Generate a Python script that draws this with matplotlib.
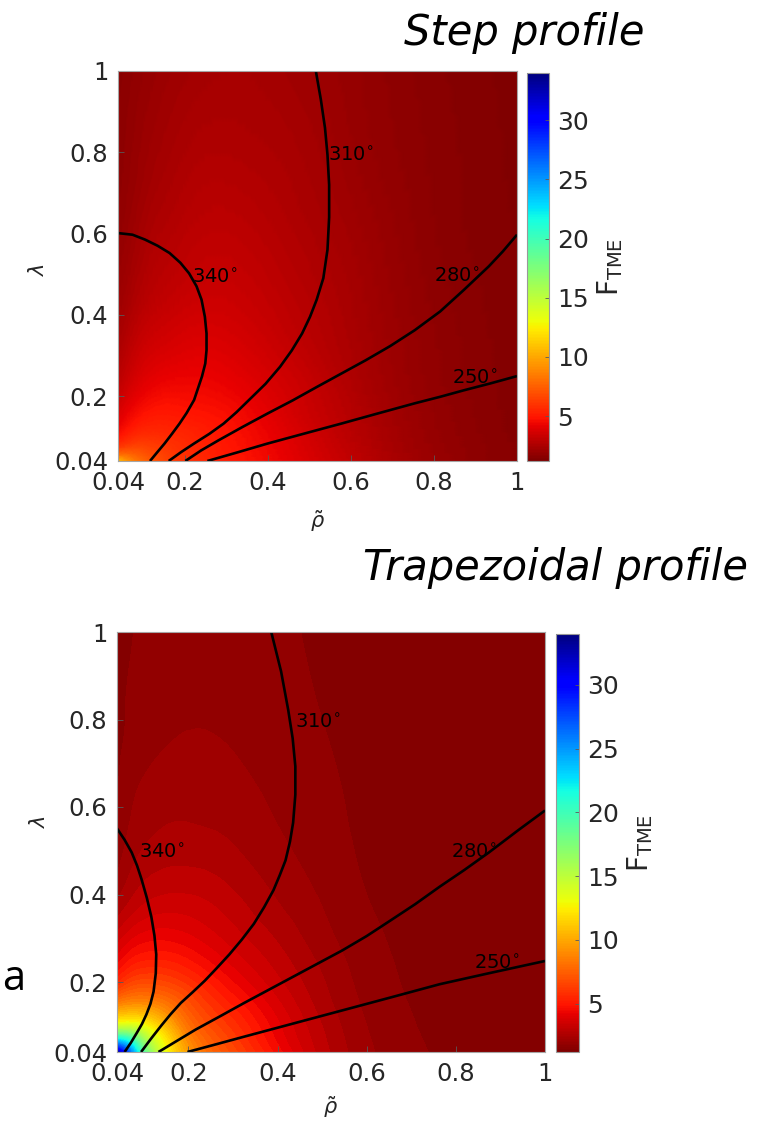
import numpy as np
import matplotlib
matplotlib.use("Agg")
import matplotlib.pyplot as plt
import matplotlib.tri as mtri
from matplotlib.colors import Normalize
from matplotlib.cm import ScalarMappable

# ---------------- data ----------------
rho = [0.04, 0.07, 0.10, 0.15, 0.20, 0.30, 0.40, 0.50, 0.60, 0.80, 1.00]
lam = [0.04, 0.07, 0.10, 0.15, 0.20, 0.30, 0.40, 0.60, 0.80, 1.00]

# F_TME, step profile (rows: lam, cols: rho)
f_step = [
    [11.0, 9.0, 7.8, 6.6, 5.9, 5.1, 4.5, 3.8, 3.1, 2.0, 1.45],
    [6.5, 6.8, 6.7, 6.2, 5.7, 5.0, 4.4, 3.7, 3.0, 1.95, 1.45],
    [4.9, 5.5, 5.8, 5.7, 5.5, 4.9, 4.3, 3.6, 2.9, 1.9, 1.42],
    [3.9, 4.5, 4.9, 5.1, 5.0, 4.7, 4.1, 3.4, 2.8, 1.85, 1.4],
    [3.3, 3.9, 4.3, 4.6, 4.6, 4.4, 3.9, 3.3, 2.7, 1.8, 1.4],
    [2.6, 3.1, 3.5, 3.8, 3.95, 3.9, 3.5, 3.0, 2.5, 1.75, 1.38],
    [2.2, 2.6, 2.95, 3.25, 3.45, 3.5, 3.2, 2.8, 2.4, 1.7, 1.36],
    [1.8, 2.05, 2.35, 2.65, 2.85, 3.0, 2.8, 2.5, 2.2, 1.6, 1.33],
    [1.62, 1.82, 2.02, 2.28, 2.48, 2.6, 2.5, 2.3, 2.0, 1.55, 1.3],
    [1.52, 1.68, 1.83, 2.03, 2.18, 2.35, 2.3, 2.1, 1.9, 1.5, 1.28],
]

# F_TME, trapezoidal profile (rows: lam, cols: rho)
f_trap = [
    [33.0, 26.0, 19.0, 13.0, 9.5, 6.6, 4.6, 3.0, 2.1, 1.5, 1.3],
    [22.0, 20.0, 16.0, 12.0, 8.8, 6.2, 4.3, 2.9, 2.05, 1.48, 1.3],
    [14.0, 14.0, 13.0, 10.5, 8.0, 5.8, 4.1, 2.8, 2.0, 1.46, 1.3],
    [8.5, 9.0, 9.0, 8.2, 6.9, 5.1, 3.7, 2.6, 1.92, 1.43, 1.28],
    [5.5, 6.3, 6.6, 6.4, 5.8, 4.4, 3.3, 2.45, 1.85, 1.4, 1.27],
    [3.4, 3.9, 4.2, 4.3, 4.1, 3.4, 2.75, 2.15, 1.72, 1.38, 1.25],
    [2.3, 2.7, 3.0, 3.2, 3.2, 2.85, 2.35, 1.95, 1.6, 1.35, 1.25],
    [1.6, 1.95, 2.15, 2.3, 2.32, 2.2, 1.95, 1.72, 1.5, 1.32, 1.23],
    [1.52, 1.65, 1.78, 1.92, 1.98, 1.93, 1.78, 1.6, 1.45, 1.3, 1.22],
    [1.5, 1.58, 1.68, 1.8, 1.87, 1.88, 1.7, 1.52, 1.4, 1.28, 1.22],
]

# Constant-angle curves, step profile
step_340_rho = [0.04, 0.075, 0.105, 0.135, 0.164, 0.19, 0.211, 0.229, 0.241, 0.249,
                0.253, 0.253, 0.250, 0.242, 0.223, 0.205, 0.188, 0.170, 0.152, 0.134, 0.117]
step_340_lam = [0.601, 0.597, 0.585, 0.570, 0.552, 0.528, 0.502, 0.470, 0.437, 0.395,
                0.354, 0.313, 0.280, 0.248, 0.19, 0.158, 0.132, 0.107, 0.083, 0.061, 0.04]
step_310_rho = [0.516, 0.528, 0.538, 0.544, 0.548, 0.548, 0.544, 0.534, 0.518, 0.502,
                0.483, 0.458, 0.43, 0.395, 0.355, 0.325, 0.294, 0.260, 0.223, 0.192, 0.162]
step_310_lam = [1.0, 0.93, 0.86, 0.794, 0.72, 0.64, 0.56, 0.49, 0.437, 0.395,
                0.354, 0.312, 0.272, 0.230, 0.19, 0.160, 0.132, 0.107, 0.083, 0.062, 0.04]
step_280_rho = [0.202, 0.24, 0.282, 0.34, 0.40, 0.46, 0.518, 0.577, 0.636, 0.695,
                0.754, 0.815, 0.872, 0.932, 0.966, 1.0]
step_280_lam = [0.04, 0.066, 0.091, 0.124, 0.157, 0.189, 0.222, 0.255, 0.288, 0.323,
                0.362, 0.408, 0.461, 0.519, 0.556, 0.597]
step_250_rho = [0.255, 0.33, 0.40, 0.49, 0.577, 0.665, 0.754, 0.815, 0.872, 0.936, 1.0]
step_250_lam = [0.04, 0.062, 0.083, 0.108, 0.132, 0.157, 0.182, 0.198, 0.214, 0.231, 0.249]

# Constant-angle curves, trapezoidal profile
trap_340_rho = [0.04, 0.057, 0.073, 0.085, 0.095, 0.107, 0.117, 0.124, 0.128, 0.127,
                0.122, 0.115, 0.106, 0.096, 0.084, 0.071, 0.057]
trap_340_lam = [0.551, 0.525, 0.496, 0.466, 0.435, 0.392, 0.349, 0.306, 0.263, 0.220,
                0.178, 0.150, 0.126, 0.104, 0.083, 0.061, 0.04]
trap_310_rho = [0.386, 0.408, 0.424, 0.434, 0.44, 0.44, 0.435, 0.428, 0.418, 0.405,
                0.391, 0.370, 0.347, 0.320, 0.292, 0.264, 0.237, 0.210, 0.183, 0.160,
                0.139, 0.116, 0.094]
trap_310_lam = [1.0, 0.91, 0.822, 0.757, 0.693, 0.628, 0.564, 0.521, 0.478, 0.444,
                0.41, 0.371, 0.333, 0.297, 0.263, 0.232, 0.203, 0.177, 0.152, 0.126,
                0.10, 0.07, 0.04]
trap_280_rho = [0.133, 0.172, 0.216, 0.27, 0.325, 0.38, 0.435, 0.49, 0.545, 0.60,
                0.654, 0.709, 0.764, 0.819, 0.874, 0.94, 1.0]
trap_280_lam = [0.04, 0.064, 0.091, 0.121, 0.152, 0.182, 0.212, 0.242, 0.272, 0.305,
                0.341, 0.378, 0.418, 0.456, 0.496, 0.547, 0.592]
trap_250_rho = [0.198, 0.26, 0.325, 0.435, 0.545, 0.655, 0.764, 0.874, 0.937, 1.0]
trap_250_lam = [0.04, 0.057, 0.075, 0.105, 0.135, 0.165, 0.195, 0.22, 0.234, 0.248]

angle_labels = ["340", "310", "280", "250"]
ticks = [0.04, 0.2, 0.4, 0.6, 0.8, 1.0]
tick_labels = ["0.04", "0.2", "0.4", "0.6", "0.8", "1"]
cbar_ticks = [5, 10, 15, 20, 25, 30]
f_min, f_max = 1.2, 34.0

# ---------------- drawing ----------------
plt.rcParams["font.family"] = ["DejaVu Sans"]
fig = plt.figure(figsize=(7.65, 11.29), dpi=100)
W, H = 765.0, 1129.0
norm = Normalize(vmin=f_min, vmax=f_max)
cmap = plt.get_cmap("jet_r")


def box(x0, y0, x1, y1):
    return [x0 / W, 1 - y1 / H, (x1 - x0) / W, (y1 - y0) / H]


def refined(values):
    R, L = np.meshgrid(rho, lam)
    tri = mtri.Triangulation(R.ravel(), L.ravel())
    z = np.log(np.asarray(values, float).ravel())
    tri_f, z_f = mtri.UniformTriRefiner(tri).refine_field(z, subdiv=4)
    return tri_f, np.exp(z_f)


def curves(ax, lines, labels):
    for (xs, ys) in lines:
        ax.plot(xs, ys, color="black", lw=1.9, solid_joinstyle="round",
                solid_capstyle="butt")
    for (txt, (x, y)) in labels:
        ax.text(x, y, txt + r"$^{\circ}$", fontsize=14, color="black",
                ha="left", va="center")


def style(ax, cax, xl_y, yl_x, yl_y):
    ax.set_xlim(0.04, 1.0)
    ax.set_ylim(0.04, 1.0)
    ax.set_xticks(ticks)
    ax.set_xticklabels(tick_labels)
    ax.set_yticks(ticks)
    ax.set_yticklabels(tick_labels)
    ax.tick_params(direction="in", length=4, width=0.6, color="0.35",
                   labelsize=17.5, labelcolor="#262626", pad=7)
    for s in ax.spines.values():
        s.set_color("0.65")
        s.set_linewidth(0.8)
    ax.set_xlabel(r"$\tilde{\rho}$", fontsize=15, color="#262626")
    ax.xaxis.set_label_coords(0.5, xl_y)
    ax.set_ylabel(r"$\lambda$", fontsize=15, color="#262626")
    ax.yaxis.set_label_coords(yl_x, yl_y)

    sm = ScalarMappable(norm=norm, cmap=cmap)
    cb = fig.colorbar(sm, cax=cax)
    cb.set_ticks(cbar_ticks)
    cb.outline.set_edgecolor("0.6")
    cb.outline.set_linewidth(0.8)
    cax.tick_params(direction="in", length=3, width=0.6, color="0.35",
                    labelsize=18, labelcolor="#262626", pad=6)
    cb.set_label(r"F$_{\mathrm{TME}}$", fontsize=20, color="#262626",
                 labelpad=4)


# Step profile: smooth shading
ax1 = fig.add_axes(box(118, 71, 517, 461))
cax1 = fig.add_axes(box(527, 73, 549, 461))
tri1, z1 = refined(f_step)
ax1.tripcolor(tri1, z1, shading="gouraud", cmap=cmap, norm=norm)
curves(ax1,
       [(step_340_rho, step_340_lam), (step_310_rho, step_310_lam),
        (step_280_rho, step_280_lam), (step_250_rho, step_250_lam)],
       [(angle_labels[0], (0.218, 0.49)), (angle_labels[1], (0.545, 0.79)),
        (angle_labels[2], (0.80, 0.494)), (angle_labels[3], (0.843, 0.243))])
style(ax1, cax1, -0.12, -0.175, 0.49)

# Trapezoidal profile: filled bands
ax2 = fig.add_axes(box(117, 632, 545, 1052))
cax2 = fig.add_axes(box(556, 634, 579, 1052))
tri2, z2 = refined(f_trap)
ax2.tricontourf(tri2, z2, levels=np.arange(f_min, f_max + 0.4, 0.4), cmap=cmap,
                norm=norm, extend="both", antialiased=False)
curves(ax2,
       [(trap_340_rho, trap_340_lam), (trap_310_rho, trap_310_lam),
        (trap_280_rho, trap_280_lam), (trap_250_rho, trap_250_lam)],
       [(angle_labels[0], (0.09, 0.496)), (angle_labels[1], (0.44, 0.792)),
        (angle_labels[2], (0.79, 0.496)), (angle_labels[3], (0.84, 0.242))])
style(ax2, cax2, -0.10, -0.16, 0.548)

fig.text(645 / W, 1 - 45 / H, "Step profile", fontsize=30, style="italic",
         ha="right", va="baseline")
fig.text(748 / W, 1 - 580 / H, "Trapezoidal profile", fontsize=30,
         style="italic", ha="right", va="baseline")
fig.text(2 / W, 1 - 990 / H, "a", fontsize=30, family=["Open Sans", "DejaVu Sans"],
         ha="left", va="baseline")

fig.savefig("out.png", dpi=100)
